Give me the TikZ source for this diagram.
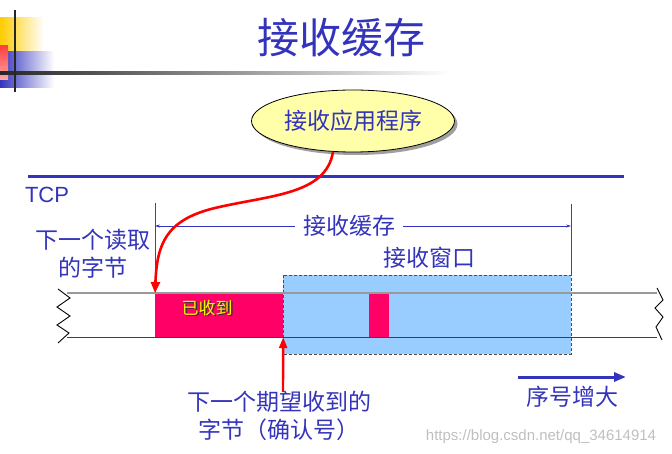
\documentclass[tikz,border=0pt]{standalone}
\usepackage{fontspec}
\setmainfont{Noto Sans CJK SC}
\newfontfamily\latinsans{Liberation Sans}
\usepackage{tikz}
\usetikzlibrary{calc, positioning, arrows.meta, shapes.geometric, shadows}
\definecolor{TextoAzul}{RGB}{51,51,187}
\definecolor{LineaAzul}{RGB}{51,51,190}
\definecolor{Recibido}{RGB}{255,0,102}
\definecolor{Ventana}{RGB}{153,204,255}
\definecolor{Elipse}{RGB}{255,255,170}
\definecolor{Dorado}{RGB}{255,204,0}

\begin{document}
\begin{tikzpicture}[
  x=1pt, y=-1pt,
  every node/.style={inner sep=0pt, text=TextoAzul,
    font=\fontsize{23}{28}\selectfont},
  titulo/.style={font=\fontsize{42}{48}\selectfont},
  aplic/.style={
    ellipse, draw=black, line width=0.8pt, fill=Elipse,
    minimum width=203pt, minimum height=62pt,
    drop shadow={shadow xshift=3pt, shadow yshift=-3pt, fill=black!75}
  },
  etiq/.style={align=center},
  bloque/.style={fill=Recibido, draw=none, minimum height=44pt},
  cota/.style={draw=LineaAzul, line width=0.6pt, -{Stealth[length=5pt, width=3pt]}},
  borde/.style={draw=black!70, line width=0.6pt},
  zigzag/.style={draw=black, line width=0.9pt},
  curva/.style={draw=red, line width=2.6pt, -{Triangle[length=11pt, width=9pt]}},
  flecha roja/.style={draw=red, line width=2.4pt, -{Triangle[length=11pt, width=8pt]}},
  flecha azul/.style={draw=LineaAzul, line width=3pt, -{Triangle[length=12pt, width=9pt]}}
]
  \useasboundingbox (0,0) rectangle (672,454);

  % --- adorno de la esquina ---
  \shade[left color=Dorado, right color=white] (0,18) rectangle (44,52);
  \shade[left color=LineaAzul, middle color=LineaAzul, right color=white] (0,52) rectangle (54,88);
  \shade[top color=red!75, bottom color=red!35!white] (0,46) rectangle (8,80);
  \shade[left color=black!85, right color=white] (0,72) rectangle (450,74.5);
  \draw[black!85, line width=2.5pt] (15,10) -- (15,92);

  % --- titulo y aplicacion ---
  \node[titulo] (title) at (341,38) {接收缓存};
  \node[aplic] (app) at (353,121) {接收应用程序};

  % --- TCP ---
  \draw[LineaAzul, line width=3pt] (28,177) -- (624,177);
  \node[font=\latinsans\fontsize{22}{26}\selectfont] (tcp) at (47,195) {TCP};

  % --- cotas del buffer ---
  \coordinate (bufL) at (155,293);
  \coordinate (bufR) at (571,275);
  \draw[borde] (155,203) -- (bufL);
  \draw[borde] (571,204) -- (bufR);
  \node[inner xsep=8pt] (buflabel) at (349,226) {接收缓存};
  \draw[cota] (buflabel.west) -- (155,226);
  \draw[cota] (buflabel.east) -- (571,226);
  \node (wndlabel) at (429,258) {接收窗口};
  \node[etiq] (readnext) at (93,254) {下一个读取\\的字节};

  % --- ventana de recepcion ---
  \draw[fill=Ventana, draw=black!70, densely dashed, line width=0.6pt]
    (283,275) rectangle (bufR |- 0,354);

  % --- bloques recibidos ---
  \node[bloque, minimum width=128pt] (got) at (219,315) {};
  \node[bloque, minimum width=20pt] (ooo) at (379,315) {};
  \node[text=black!80, font=\fontsize{17}{20}\selectfont] at (208.5,309.5) {已收到};
  \node[text=yellow, font=\fontsize{17}{20}\selectfont] (gotlabel) at (207,308) {已收到};

  % --- lineas de la secuencia ---
  \draw[black!40, line width=1.6pt] (67,293) -- (657,293);
  \draw[black!75, line width=1pt] (67,337) -- (657,337);
  \draw[zigzag] (58,289) -- (70,298) -- (57,307) -- (70,316) -- (57,325) -- (69,333) -- (58,343);
  \draw[zigzag] (657,288) -- (663,300) -- (655,308) -- (663,317) -- (656,327) -- (662,340);

  % --- flecha de la aplicacion ---
  \draw[curva] (app.237) .. controls (326,195) and (270,195) .. (215,208)
    .. controls (165,220) and (157,245) .. (bufL);

  % --- siguiente byte esperado ---
  \coordinate (ackfoot) at (283,392);
  \draw[flecha roja] (ackfoot) -- (got.south east);
  \node[etiq, line width=0pt] (acklabel) at (279,416) {下一个期望收到的\\字节（确认号）};

  % --- sentido de la secuencia ---
  \coordinate (seqL) at (518,377);
  \coordinate (seqR) at (626,377);
  \draw[flecha azul] (seqL) -- (seqR);
  \node (seqlabel) at (572,397) {序号增大};

  % --- marca de agua ---
  \node[text=black!25, font=\latinsans\fontsize{15}{18}\selectfont] (wm) at (541,437) {https://blog.csdn.net/qq\_34614914};
\end{tikzpicture}
\end{document}
